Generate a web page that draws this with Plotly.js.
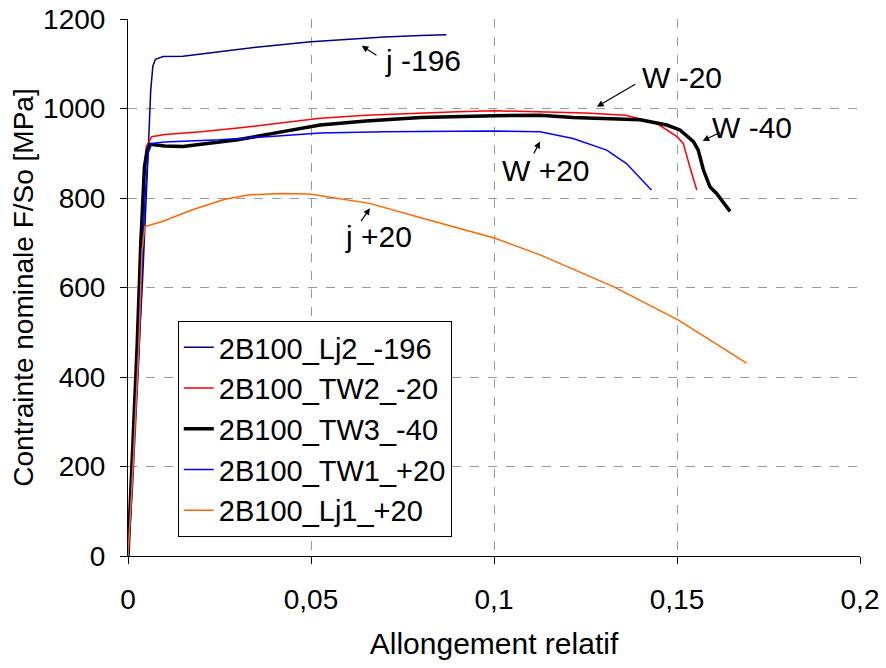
<!DOCTYPE html>
<html>
<head>
<meta charset="utf-8">
<script src="https://cdn.plot.ly/plotly-3.0.1.min.js"></script>
<style>html,body{margin:0;padding:0;background:#fff;}#chart{width:886px;height:668px;}</style>
</head>
<body>
<div id="chart"></div>
<script>
// Series names
const names = ["2B100_Lj2_-196", "2B100_TW2_-20", "2B100_TW3_-40", "2B100_TW1_+20", "2B100_Lj1_+20"];

// 2B100_Lj2_-196
const lj2X = [0, 0.002, 0.004, 0.0055, 0.0062, 0.0068, 0.0075, 0.0096, 0.015, 0.025, 0.035, 0.05, 0.06, 0.07, 0.08, 0.087];
const lj2Y = [0, 300, 620, 900, 1040, 1095, 1110, 1116, 1117, 1127, 1137, 1149, 1155, 1160, 1163, 1165];

// 2B100_TW2_-20
const tw2X = [0, 0.001, 0.0025, 0.004, 0.005, 0.0065, 0.01, 0.02, 0.025, 0.032, 0.04, 0.0525, 0.065, 0.08, 0.09, 0.1, 0.1126, 0.125, 0.136, 0.1444, 0.15, 0.1517, 0.1535, 0.1554];
const tw2Y = [0, 180, 480, 800, 915, 937, 942, 948, 952, 958, 966, 978, 985, 990, 993, 995, 993, 990, 985, 967, 937, 922, 870, 818];

// 2B100_TW3_-40
const tw3X = [0, 0.001, 0.0025, 0.0035, 0.0045, 0.0052, 0.006, 0.01, 0.015, 0.02, 0.03, 0.04, 0.0525, 0.065, 0.08, 0.1, 0.1126, 0.1216, 0.1399, 0.1472, 0.1508, 0.1545, 0.1558, 0.1572, 0.159, 0.1608, 0.1645];
const tw3Y = [0, 180, 470, 700, 870, 905, 920, 916, 915, 920, 930, 945, 963, 972, 980, 984, 985, 980, 975, 963, 952, 926, 907, 863, 825, 810, 770];

// 2B100_TW1_+20
const tw1X = [0, 0.0012, 0.003, 0.0045, 0.0055, 0.0065, 0.01, 0.025, 0.04, 0.0525, 0.07, 0.09, 0.1, 0.1126, 0.1216, 0.1308, 0.1362, 0.143];
const tw1Y = [0, 150, 450, 780, 900, 922, 925, 930, 938, 945, 948, 950, 950, 948, 933, 907, 877, 818];

// 2B100_Lj1_+20
const lj1X = [0, 0.0015, 0.003, 0.0038, 0.0046, 0.0092, 0.0174, 0.0265, 0.0333, 0.042, 0.0497, 0.066, 0.08, 0.1003, 0.1126, 0.1326, 0.1504, 0.169];
const lj1Y = [0, 220, 480, 680, 736, 747, 773, 797, 807, 810, 809, 788, 756, 710, 673, 602, 527, 431];

// Axis ticks
const xTicks = [0, 0.05, 0.1, 0.15, 0.2];
const xTickText = ["0", "0,05", "0,1", "0,15", "0,2"];
const yTicks = [0, 200, 400, 600, 800, 1000, 1200];

// Curve labels
const labelTexts = ["j -196", "W -20", "W -40", "W +20", "j +20"];

const FONT = "Liberation Sans, Arial, sans-serif";

const series = [
  {x: lj2X, y: lj2Y, color: "#000080", w: 1.5},
  {x: tw2X, y: tw2Y, color: "#FF0000", w: 1.5},
  {x: tw3X, y: tw3Y, color: "#000000", w: 3.5},
  {x: tw1X, y: tw1Y, color: "#0000FF", w: 1.5},
  {x: lj1X, y: lj1Y, color: "#FF6600", w: 1.5}
];

const traces = series.map((s, i) => ({
  type: "scatter", mode: "lines", name: names[i],
  x: s.x, y: s.y,
  line: {color: s.color, width: s.w}
}));

// Arrows (head x,y ; tail ax,ay) in data units, and label centres
const arrows = [
  {x: 0.06385, y: 1140, ax: 0.0683, ay: 1117, tx: 0.0805, ty: 1108},
  {x: 0.12814, y: 1004, ax: 0.139, ay: 1056, tx: 0.1515, ty: 1070},
  {x: 0.157, y: 928, ax: 0.1622, ay: 948, tx: 0.1705, ty: 958},
  {x: 0.11257, y: 926, ax: 0.11066, ay: 896, tx: 0.1142, ty: 862},
  {x: 0.0661, y: 777, ax: 0.0634, ay: 745, tx: 0.0685, ty: 713}
];

const annotations = [];
arrows.forEach((a, i) => {
  annotations.push({
    x: a.x, y: a.y, xref: "x", yref: "y",
    ax: a.ax, ay: a.ay, axref: "x", ayref: "y",
    text: "", showarrow: true, arrowhead: 2, arrowsize: 1.1, arrowwidth: 1.2,
    arrowcolor: "#000", standoff: 0, startstandoff: 0
  });
  annotations.push({
    x: a.tx, y: a.ty, xref: "x", yref: "y", text: labelTexts[i],
    showarrow: false, font: {family: FONT, size: 30, color: "#000"},
    xanchor: "center", yanchor: "middle"
  });
});

const layout = {
  width: 886, height: 668,
  margin: {l: 128, r: 26, t: 19, b: 112, pad: 0},
  paper_bgcolor: "#fff", plot_bgcolor: "#fff",
  font: {family: FONT, size: 28, color: "#000"},
  separators: ", ",
  showlegend: true,
  legend: {
    x: 0.068, y: 0.4376, xanchor: "left", yanchor: "top",
    bgcolor: "#fff", bordercolor: "#000", borderwidth: 1,
    font: {family: FONT, size: 29, color: "#000"},
    tracegroupgap: 0, itemwidth: 30
  },
  xaxis: {
    range: [0, 0.2], tickvals: xTicks, ticktext: xTickText,
    showline: true, linecolor: "#000", linewidth: 1,
    ticks: "outside", ticklen: 7, tickcolor: "#000",
    showgrid: true, gridcolor: "#9a9a9a", griddash: "dash", gridwidth: 1,
    zeroline: false, ticklabelstandoff: 11,
    tickfont: {family: FONT, size: 28, color: "#000"},
    title: {text: "Allongement relatif", font: {family: FONT, size: 30, color: "#000"}, standoff: 19}
  },
  yaxis: {
    range: [0, 1200], tickvals: yTicks,
    showline: true, linecolor: "#000", linewidth: 1,
    ticks: "outside", ticklen: 7, tickcolor: "#000",
    showgrid: true, gridcolor: "#9a9a9a", griddash: "dash", gridwidth: 1,
    zeroline: false, ticklabelstandoff: 9,
    tickfont: {family: FONT, size: 28, color: "#000"},
    title: {text: "Contrainte nominale F/So [MPa]", font: {family: FONT, size: 28, color: "#000"}, standoff: 1}
  },
  annotations: annotations
};

Plotly.newPlot("chart", traces, layout, {displayModeBar: false, staticPlot: true});
</script>
</body>
</html>
